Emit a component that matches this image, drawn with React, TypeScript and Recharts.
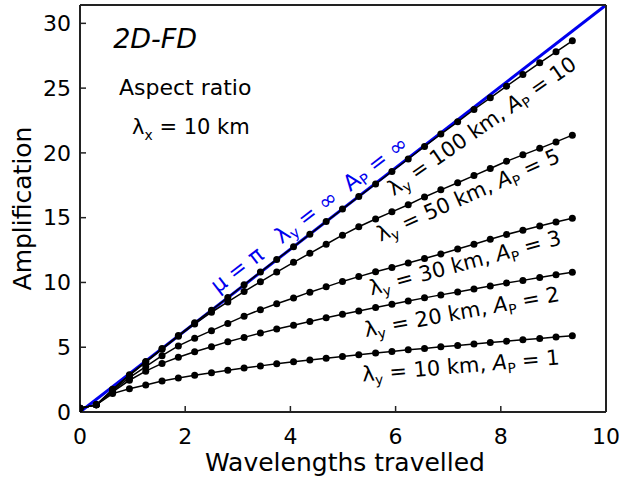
import React from 'react';
import { LineChart, Line, XAxis, YAxis, ReferenceDot } from 'recharts';

const FONT = '"DejaVu Sans", Verdana, sans-serif';

// Wavelengths travelled (x) at which the solution was sampled
const wavelengths = [0, 0.31, 0.62, 0.94, 1.25, 1.56, 1.87, 2.18, 2.5, 2.81, 3.12, 3.43, 3.74, 4.06, 4.37, 4.68, 4.99, 5.3, 5.62, 5.93, 6.24, 6.55, 6.86, 7.18, 7.49, 7.8, 8.11, 8.42, 8.74, 9.05, 9.36];

// Amplification for each aspect ratio
const ampLy10 = [0.28, 0.55, 1.42, 1.8, 2.08, 2.4, 2.63, 2.84, 3.03, 3.22, 3.39, 3.56, 3.72, 3.87, 4.01, 4.15, 4.29, 4.42, 4.55, 4.67, 4.8, 4.91, 5.03, 5.14, 5.25, 5.36, 5.47, 5.57, 5.68, 5.78, 5.88];
const ampLy20 = [0.28, 0.55, 1.55, 2.45, 3.15, 3.75, 4.22, 4.65, 5.03, 5.43, 5.76, 6.09, 6.4, 6.7, 6.98, 7.27, 7.54, 7.8, 8.06, 8.32, 8.56, 8.81, 9.04, 9.27, 9.5, 9.73, 9.95, 10.16, 10.38, 10.59, 10.79];
const ampLy30 = [0.28, 0.55, 1.62, 2.65, 3.5, 4.35, 5.1, 5.7, 6.28, 6.84, 7.4, 7.9, 8.35, 8.8, 9.25, 9.66, 10.08, 10.45, 10.82, 11.15, 11.5, 11.85, 12.2, 12.58, 12.95, 13.33, 13.7, 14.03, 14.35, 14.66, 14.95];
const ampLy50 = [0.28, 0.55, 1.7, 2.82, 3.85, 4.85, 5.85, 6.8, 7.7, 8.5, 9.3, 10.05, 10.8, 11.55, 12.25, 12.95, 13.65, 14.3, 14.9, 15.45, 16.0, 16.6, 17.15, 17.7, 18.25, 18.8, 19.35, 19.85, 20.35, 20.85, 21.37];
const ampLy100 = [0.28, 0.55, 1.75, 2.88, 3.9, 4.9, 5.9, 6.88, 7.86, 8.84, 9.82, 10.8, 11.78, 12.75, 13.72, 14.7, 15.66, 16.63, 17.6, 18.57, 19.53, 20.5, 21.45, 22.4, 23.35, 24.25, 25.15, 26.05, 26.95, 27.8, 28.65];

// Infinite aspect ratio (mu = pi) reference line
const infX = [0, 10];
const infY = [0, 31.416];

const xTicks = [0, 2, 4, 6, 8, 10];
const yTicks = [0, 5, 10, 15, 20, 25, 30];
const yMax = 31.416;

const table = wavelengths.map((x, i) => ({
  x,
  ly10: ampLy10[i],
  ly20: ampLy20[i],
  ly30: ampLy30[i],
  ly50: ampLy50[i],
  ly100: ampLy100[i],
}));
const infTable = infX.map((x, i) => ({ x, inf: infY[i] }));

type Piece = { t: string; sub?: boolean; it?: boolean };

function renderPieces(pieces: Piece[], fs: number) {
  let shift = 0;
  return pieces.map((p, i) => {
    const target = p.sub ? fs * 0.3 : 0;
    const dy = target - shift;
    shift = target;
    return (
      <tspan
        key={i}
        dy={dy}
        fontSize={p.sub ? fs * 0.66 : fs}
        fontStyle={p.it ? 'italic' : 'normal'}
      >
        {p.t}
      </tspan>
    );
  });
}

const rotated = (pieces: Piece[], angle: number, fs: number, color: string) => (props: any) => {
  const vb = props.viewBox || { x: 0, y: 0, width: 0, height: 0 };
  const cx = vb.x + (vb.width || 0) / 2;
  const cy = vb.y + (vb.height || 0) / 2;
  return (
    <text
      x={cx}
      y={cy}
      transform={`rotate(${angle} ${cx} ${cy})`}
      textAnchor="middle"
      dominantBaseline="central"
      fill={color}
      fontSize={fs}
      fontFamily={FONT}
      style={{ whiteSpace: 'pre' }}
    >
      {renderPieces(pieces, fs)}
    </text>
  );
};

const plain = (pieces: Piece[], fs: number) => (props: any) => {
  const vb = props.viewBox || { x: 0, y: 0, width: 0, height: 0 };
  const cx = vb.x + (vb.width || 0) / 2;
  const cy = vb.y + (vb.height || 0) / 2;
  return (
    <text
      x={cx}
      y={cy}
      textAnchor="start"
      fill="#000"
      fontSize={fs}
      fontFamily={FONT}
      style={{ whiteSpace: 'pre' }}
    >
      {renderPieces(pieces, fs)}
    </text>
  );
};

const XTitle = (props: any) => {
  const vb = props.viewBox;
  return (
    <text x={vb.x + vb.width / 2 + 2} y={vb.y + 59} textAnchor="middle" fontSize={25} fontFamily={FONT} fill="#000">
      Wavelengths travelled
    </text>
  );
};

const YTitle = (props: any) => {
  const vb = props.viewBox;
  const cx = vb.x + 22;
  const cy = vb.y + vb.height / 2;
  return (
    <text x={cx} y={cy} transform={`rotate(-90 ${cx} ${cy})`} textAnchor="middle" dominantBaseline="central" fontSize={25} fontFamily={FONT} fill="#000">
      Amplification
    </text>
  );
};

const lamY = (km: string, ap: string): Piece[] => [
  { t: 'λ' },
  { t: 'y', sub: true },
  { t: ` = ${km} km, ` },
  { t: 'A', it: true },
  { t: 'P', sub: true },
  { t: ` = ${ap}` },
];

const AX = '#222';

export default function App() {
  const dotStyle = { r: 3.5, fill: '#000', stroke: '#000', strokeWidth: 0 };
  return (
    <div style={{ position: 'absolute', left: 0, top: 0, background: '#fff' }}>
      <LineChart width={624} height={481} data={table} margin={{ top: 4, right: 17, bottom: 0, left: 0 }}>
        <XAxis
          xAxisId="b"
          dataKey="x"
          type="number"
          domain={[0, 10]}
          ticks={xTicks}
          allowDataOverflow
          orientation="bottom"
          height={69}
          tickSize={-6}
          tickMargin={22}
          axisLine={{ stroke: AX, strokeWidth: 2 }}
          tickLine={{ stroke: AX, strokeWidth: 1.5 }}
          tick={{ fill: '#000', fontSize: 22, fontFamily: FONT }}
          label={{ content: XTitle }}
        />
        <XAxis
          xAxisId="t"
          type="number"
          domain={[0, 10]}
          ticks={xTicks}
          allowDataOverflow
          orientation="top"
          height={1}
          tickSize={-6}
          axisLine={{ stroke: AX, strokeWidth: 2 }}
          tickLine={{ stroke: AX, strokeWidth: 1.5 }}
          tick={false}
        />
        <YAxis
          yAxisId="l"
          type="number"
          domain={[0, yMax]}
          ticks={yTicks}
          allowDataOverflow
          width={80}
          tickSize={-6}
          tickMargin={15}
          axisLine={{ stroke: AX, strokeWidth: 2 }}
          tickLine={{ stroke: AX, strokeWidth: 1.5 }}
          tick={{ fill: '#000', fontSize: 22, fontFamily: FONT }}
          label={{ content: YTitle }}
        />
        <YAxis
          yAxisId="r"
          orientation="right"
          type="number"
          domain={[0, yMax]}
          ticks={yTicks}
          allowDataOverflow
          width={1}
          tickSize={-6}
          axisLine={{ stroke: AX, strokeWidth: 2 }}
          tickLine={{ stroke: AX, strokeWidth: 1.5 }}
          tick={false}
        />
        <Line xAxisId="b" yAxisId="l" data={infTable} dataKey="inf" stroke="#0000ee" strokeWidth={3} dot={false} isAnimationActive={false} />
        <Line xAxisId="b" yAxisId="l" dataKey="ly10" stroke="#000" strokeWidth={1.5} dot={dotStyle} isAnimationActive={false} />
        <Line xAxisId="b" yAxisId="l" dataKey="ly20" stroke="#000" strokeWidth={1.5} dot={dotStyle} isAnimationActive={false} />
        <Line xAxisId="b" yAxisId="l" dataKey="ly30" stroke="#000" strokeWidth={1.5} dot={dotStyle} isAnimationActive={false} />
        <Line xAxisId="b" yAxisId="l" dataKey="ly50" stroke="#000" strokeWidth={1.5} dot={dotStyle} isAnimationActive={false} />
        <Line xAxisId="b" yAxisId="l" dataKey="ly100" stroke="#000" strokeWidth={1.5} dot={dotStyle} isAnimationActive={false} />

        <ReferenceDot xAxisId="b" yAxisId="l" x={0.63} y={28.1} r={0} stroke="none" label={{ content: plain([{ t: '2D-FD', it: true }], 27) }} />
        <ReferenceDot xAxisId="b" yAxisId="l" x={0.74} y={24.45} r={0} stroke="none" label={{ content: plain([{ t: 'Aspect ratio' }], 22) }} />
        <ReferenceDot xAxisId="b" yAxisId="l" x={0.99} y={21.45} r={0} stroke="none" label={{ content: plain([{ t: 'λ' }, { t: 'x', sub: true }, { t: ' = 10 km' }], 21) }} />

        <ReferenceDot xAxisId="b" yAxisId="l" x={4.35} y={15.3} r={0} stroke="none"
          label={{ content: rotated([{ t: 'μ = π   λ' }, { t: 'y', sub: true }, { t: ' = ∞  ' }, { t: 'A' }, { t: 'P', sub: true }, { t: ' = ∞' }], -37.5, 22, '#0000ee') }} />
        <ReferenceDot xAxisId="b" yAxisId="l" x={7.64} y={22.07} r={0} stroke="none" label={{ content: rotated(lamY('100', '10'), -35, 21, '#000') }} />
        <ReferenceDot xAxisId="b" yAxisId="l" x={7.38} y={16.74} r={0} stroke="none" label={{ content: rotated(lamY('50', '5'), -24, 21, '#000') }} />
        <ReferenceDot xAxisId="b" yAxisId="l" x={7.32} y={11.5} r={0} stroke="none" label={{ content: rotated(lamY('30', '3'), -15, 21, '#000') }} />
        <ReferenceDot xAxisId="b" yAxisId="l" x={7.26} y={7.72} r={0} stroke="none" label={{ content: rotated(lamY('20', '2'), -10.5, 21, '#000') }} />
        <ReferenceDot xAxisId="b" yAxisId="l" x={7.24} y={3.55} r={0} stroke="none" label={{ content: rotated(lamY('10', '1'), -5, 21, '#000') }} />
      </LineChart>
    </div>
  );
}
